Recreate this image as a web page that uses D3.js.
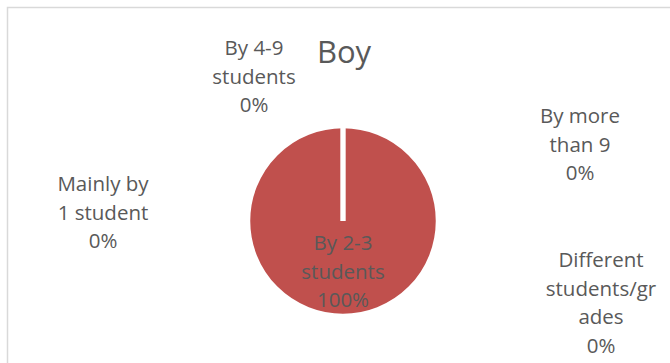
<!DOCTYPE html>
<html>
<head>
<meta charset="utf-8">
<script src="https://cdn.jsdelivr.net/npm/d3@7/dist/d3.min.js"></script>
<style>
  html, body { margin: 0; padding: 0; background: #fff; }
  svg { display: block; }
  text { font-family: "Open Sans", sans-serif; fill: #595959; }
</style>
</head>
<body>
<svg id="chart" width="670" height="363"></svg>
<script>
// ---- data ----
const title = "Boy";
const categories = ["By 4-9 students", "By more than 9", "Different students/grades", "By 2-3 students", "Mainly by 1 student"];
const values = [0, 0, 0, 100, 0];
// label text lines as shown in the chart (wrapped by the original renderer)
const labelLines = [
  ["By 4-9", "students"],
  ["By more", "than 9"],
  ["Different", "students/gr", "ades"],
  ["By 2-3", "students"],
  ["Mainly by", "1 student"]
];
const sliceColors = ["#4F81BD", "#9BBB59", "#8064A2", "#C0504D", "#4BACC6"];

// ---- layout ----
const W = 670, H = 363;
const cx = 343, cy = 221, R = 95;
const lineH = 28.5;
// label anchor (centre x, first baseline y) relative to pie centre
const labelPos = [
  { dx: -89, dy: -166 },
  { dx: 237, dy: -98 },
  { dx: 258, dy: 46 },
  { dx: 0, dy: 29 },
  { dx: -240, dy: -30 }
];

const svg = d3.select("#chart");

// chart frame
svg.append("rect")
  .attr("x", 7.5).attr("y", 7.5)
  .attr("width", W + 20).attr("height", H + 20)
  .attr("fill", "#fff")
  .attr("stroke", "#D9D9D9")
  .attr("stroke-width", 1.5);

// title
svg.append("text")
  .attr("x", cx + 1).attr("y", 63)
  .attr("text-anchor", "middle")
  .style("font-size", "31px")
  .text(title);

// pie
const total = d3.sum(values);
const pie = d3.pie().sort(null).value(d => d)
  .startAngle(0).endAngle(2 * Math.PI);
// order slices clockwise from top as in the source: 2-3 fills the circle
const order = [3, 0, 1, 2, 4];
const arcs = pie(order.map(i => values[i]));
const arc = d3.arc().innerRadius(0).outerRadius(R);

const g = svg.append("g").attr("transform", `translate(${cx},${cy})`);
g.selectAll("path.slice")
  .data(arcs)
  .join("path")
  .attr("class", "slice")
  .attr("d", arc)
  .attr("fill", (d, i) => sliceColors[order[i]])
  .attr("stroke", "#fff")
  .attr("stroke-width", 4.5)
  .attr("stroke-linejoin", "miter");

// labels
const fmt = v => Math.round(v / total * 100) + "%";
categories.forEach((c, i) => {
  const lines = labelLines[i].concat([fmt(values[i])]);
  const t = svg.append("text")
    .attr("text-anchor", "middle")
    .style("font-size", "20.5px");
  lines.forEach((ln, k) => {
    t.append("tspan")
      .attr("x", cx + labelPos[i].dx)
      .attr("y", cy + labelPos[i].dy + k * lineH)
      .text(ln);
  });
});
</script>
</body>
</html>
